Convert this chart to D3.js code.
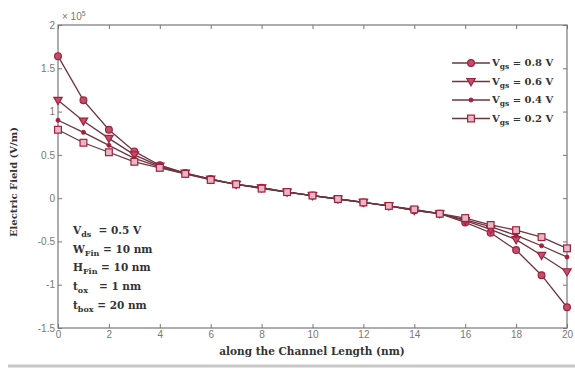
<!DOCTYPE html>
<html>
<head>
<meta charset="utf-8">
<script src="https://d3js.org/d3.v7.min.js"></script>
<style>
  body { margin: 0; background: #fff; }
  .tick text { font-family: "Liberation Sans", Arial, sans-serif; font-size: 10px; fill: #777; }
  .lbl { font-family: "DejaVu Serif", "Liberation Serif", serif; font-weight: bold; fill: #333; }
</style>
</head>
<body>
<script>
// x positions along the channel (nm)
var xs = d3.range(0, 21);
// electric field, units of 1e5 V/m
var vgs08 = [1.64, 1.13, 0.79, 0.54, 0.38, 0.29, 0.22, 0.16, 0.12, 0.07, 0.03, -0.01, -0.05, -0.09, -0.14, -0.18, -0.28, -0.40, -0.60, -0.89, -1.26];
var vgs06 = [1.13, 0.89, 0.69, 0.50, 0.37, 0.29, 0.22, 0.16, 0.12, 0.07, 0.03, -0.01, -0.05, -0.09, -0.14, -0.18, -0.26, -0.36, -0.48, -0.66, -0.85];
var vgs04 = [0.90, 0.76, 0.61, 0.46, 0.36, 0.28, 0.22, 0.16, 0.12, 0.07, 0.03, -0.01, -0.05, -0.09, -0.14, -0.18, -0.25, -0.33, -0.43, -0.55, -0.68];
var vgs02 = [0.79, 0.64, 0.53, 0.42, 0.35, 0.28, 0.21, 0.16, 0.11, 0.07, 0.03, -0.01, -0.05, -0.09, -0.13, -0.18, -0.23, -0.31, -0.37, -0.45, -0.58];
var seriesNames = ["0.8", "0.6", "0.4", "0.2"];
var markers = ["circle", "triangle", "dot", "square"];
var xTicks = [0, 2, 4, 6, 8, 10, 12, 14, 16, 18, 20];
var yTicks = [-1.5, -1, -0.5, 0, 0.5, 1, 1.5, 2];
var params = [["V", "ds", "  = 0.5 V"], ["W", "Fin", " = 10 nm"], ["H", "Fin", " = 10 nm"], ["t", "ox", "   = 1 nm"], ["t", "box", " = 20 nm"]];

var width = 575, height = 369;
var lineColor = "#6e3440", markColor = "#a3203f", markFill = "#c0506a";

var svg = d3.select("body").append("svg").attr("width", width).attr("height", height);

var x = d3.scaleLinear().domain([0, 20]).range([58, 567]);
var y = d3.scaleLinear().domain([-1.5, 2]).range([328, 25]);

// frame
svg.append("rect").attr("x", 58).attr("y", 25).attr("width", 509).attr("height", 303)
  .attr("fill", "none").attr("stroke", "#777").attr("stroke-width", 1.2);

svg.append("g").attr("transform", "translate(0,328)")
  .call(d3.axisBottom(x).tickValues(xTicks).tickSize(-4).tickPadding(3))
  .call(g => g.select(".domain").remove())
  .call(g => g.selectAll("line").attr("stroke", "#777"));
svg.append("g").attr("transform", "translate(0,25)")
  .call(d3.axisTop(x).tickValues(xTicks).tickSize(-4).tickFormat(""))
  .call(g => g.select(".domain").remove())
  .call(g => g.selectAll("line").attr("stroke", "#777"));
svg.append("g").attr("transform", "translate(58,0)")
  .call(d3.axisLeft(y).tickValues(yTicks).tickSize(-4).tickPadding(3).tickFormat(d => String(d)))
  .call(g => g.select(".domain").remove())
  .call(g => g.selectAll("line").attr("stroke", "#777"));
svg.append("g").attr("transform", "translate(567,0)")
  .call(d3.axisRight(y).tickValues(yTicks).tickSize(-4).tickFormat(""))
  .call(g => g.select(".domain").remove())
  .call(g => g.selectAll("line").attr("stroke", "#777"));

var exp = svg.append("text").attr("x", 62).attr("y", 20)
  .attr("font-family", "Liberation Sans, Arial, sans-serif").attr("font-size", 10).attr("fill", "#777");
exp.append("tspan").text("\u00d7 10");
exp.append("tspan").attr("dy", -4).attr("font-size", 7).text("5");

function drawMarker(g, type, cx, cy) {
  if (type === "circle") {
    g.append("circle").attr("cx", cx).attr("cy", cy).attr("r", 3.4)
      .attr("fill", markFill).attr("stroke", markColor).attr("stroke-width", 1.2);
  } else if (type === "triangle") {
    g.append("path").attr("d", d3.line()([[cx - 4.2, cy - 3], [cx + 4.2, cy - 3], [cx, cy + 4.2]]) + "Z")
      .attr("fill", markFill).attr("stroke", markColor).attr("stroke-width", 1.2);
  } else if (type === "dot") {
    g.append("circle").attr("cx", cx).attr("cy", cy).attr("r", 2)
      .attr("fill", markColor).attr("stroke", markColor);
  } else {
    g.append("rect").attr("x", cx - 3.4).attr("y", cy - 3.4).attr("width", 6.8).attr("height", 6.8)
      .attr("fill", "#e6b8c4").attr("stroke", markColor).attr("stroke-width", 1.2);
  }
}

var allSeries = [vgs08, vgs06, vgs04, vgs02];
var line = d3.line().x((d, i) => x(xs[i])).y(d => y(d));

allSeries.forEach(function(vals, k) {
  var g = svg.append("g");
  g.append("path").attr("d", line(vals)).attr("fill", "none")
    .attr("stroke", lineColor).attr("stroke-width", 1.3);
  vals.forEach(function(v, i) { drawMarker(g, markers[k], x(xs[i]), y(v)); });
});

// legend
seriesNames.forEach(function(name, k) {
  var ly = 63 + k * 18.5;
  var g = svg.append("g");
  g.append("line").attr("x1", 452).attr("x2", 490).attr("y1", ly).attr("y2", ly)
    .attr("stroke", lineColor).attr("stroke-width", 1.3);
  drawMarker(g, markers[k], 471, ly);
  var t = g.append("text").attr("class", "lbl").attr("x", 492).attr("y", ly + 3).attr("font-size", 10);
  t.append("tspan").text("V");
  t.append("tspan").attr("dy", 3).attr("font-size", 7.5).text("gs");
  t.append("tspan").attr("dy", -3).text(" = " + name + " V");
});

// device parameters
params.forEach(function(p, k) {
  var t = svg.append("text").attr("class", "lbl").attr("x", 73).attr("y", 234 + k * 18.7).attr("font-size", 10.5)
    .attr("xml:space", "preserve");
  t.append("tspan").text(p[0]);
  t.append("tspan").attr("dy", 3).attr("font-size", 8).text(p[1]);
  t.append("tspan").attr("dy", -3).text(p[2]);
});

svg.append("text").attr("class", "lbl").attr("x", 312).attr("y", 355).attr("font-size", 10.5)
  .attr("text-anchor", "middle").text("along the Channel Length (nm)");
svg.append("text").attr("class", "lbl").attr("transform", "translate(17,182) rotate(-90)")
  .attr("font-size", 10).attr("text-anchor", "middle").text("Electric Field (V/m)");

svg.append("line").attr("x1", 8).attr("x2", 575).attr("y1", 366).attr("y2", 366)
  .attr("stroke", "#c8c8c8").attr("stroke-width", 3);
</script>
</body>
</html>
